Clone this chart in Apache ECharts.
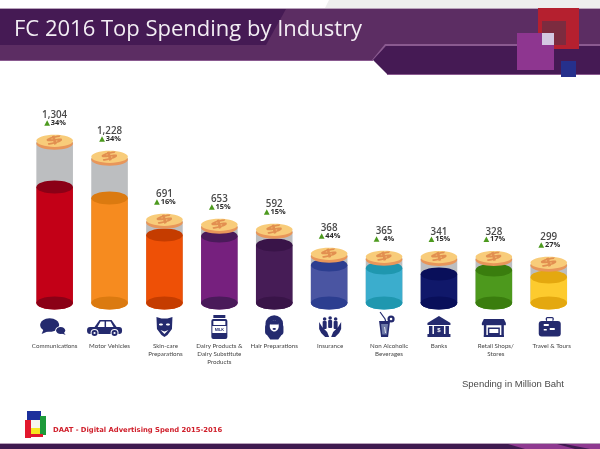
<!DOCTYPE html>
<html><head><meta charset="utf-8">
<style>html,body{margin:0;padding:0;background:#fff}#c{width:600px;height:449px}</style>
<script src="https://cdn.jsdelivr.net/npm/echarts@6/dist/echarts.min.js"></script>
</head><body><div id="c"></div>
<script>
var categories=['Communications','Motor Vehicles','Skin-care\nPreparations','Dairy Products &\nDairy Substitute\nProducts','Hair Preparations','Insurance','Non Alcoholic\nBeverages','Banks','Retail Shops/\nStores','Travel & Tours'];
var spending=['1,304','1,228','691','653','592','368','365','341','328','299'];
var growth=['34%','34%','16%','15%','15%','44%','4%','15%','17%','27%'];
var coinLevel=[1288,1160,656,616,576,384,360,358,358,312];
var fillLevel=[928,840,544,536,464,304,280,232,264,208];
var bodyColors=['#c30017','#f68b1f','#ee5006','#76207e','#461c56','#4a55a2','#3badcd','#10186a','#4d991d','#fdcb2e'];
var capColors=['#8b0016','#db7a10','#c53c00','#4a1a5a','#391448','#2c3e90','#1f97af','#090f5a','#3a7d0e','#e4a80f'];
var labelShift=[0,0,1,0,0,1,5,0,2,3];
var iconShift=[-2,-5,0,0,0,1,1,0,0,1];

var NAVY='#242a6e',W='#fff';
function E(cx,cy,rx,ry,f,r){return {type:'ellipse',shape:{cx:cx,cy:cy,rx:rx,ry:ry},style:{fill:f},rotation:r||0};}
function C(cx,cy,r,f){return {type:'circle',shape:{cx:cx,cy:cy,r:r},style:{fill:f}};}
function R(x,y,w,h,f,r){return {type:'rect',shape:{x:x,y:y,width:w,height:h,r:r||0},style:{fill:f}};}
function P(p,f){return {type:'polygon',shape:{points:p},style:{fill:f}};}
function L(p,s,w){return {type:'polyline',shape:{points:p},style:{fill:'none',stroke:s,lineWidth:w}};}
var icons=[
 [E(-3,-2,9.5,6.8,NAVY),P([[-9,2],[-11,7],[-4,4]],NAVY),E(8,3.5,5.4,4.2,W),E(8,3.5,4.6,3.5,NAVY),P([[8,6],[13,8],[10,4]],NAVY)],
 [R(-17.5,0,35,7,NAVY,3),P([[-10,0],[-5,-7],[7,-7],[12,0]],NAVY),P([[-7,0],[-4,-5.5],[0,-5.5],[0,0]],W),P([[1.5,0],[1.5,-5.5],[6,-5.5],[9,0]],W),C(-10,6,4,W),C(-10,6,3,NAVY),C(-10,6,1.1,W),C(10,6,4,W),C(10,6,3,NAVY),C(10,6,1.1,W)],
 [P([[-8,-10],[-3,-8.5],[3,-8.5],[8,-10],[7.5,2],[3,8],[0,10],[-3,8],[-7.5,2]],NAVY),E(-3.5,-2.5,2,1,W),E(3.5,-2.5,2,1,W),P([[-4,3],[0,4.5],[4,3],[0,7]],W)],
 [R(-6,-12,12,3,NAVY),R(-8,-8,16,20,NAVY,2),R(-6,-6,12,4,W),R(-7,-1,14,7,W),{type:'text',style:{text:'MILK',x:0,y:2.5,fill:NAVY,font:'bold 3.8px "Liberation Sans"',align:'center',verticalAlign:'middle'}}],
 [C(0,-3,8.8,NAVY),R(-9.2,-3,18.4,11,NAVY,3),P([[-8,7],[-4,12.5],[4,12.5],[8,7]],NAVY),E(0,-1,4.5,5.5,W),P([[-5,-5],[0,-7],[5,-5],[4,-2.5],[-4,-2.5]],NAVY),E(0,2,1.7,.9,NAVY)],
 [C(-5.5,-8,1.8,NAVY),C(0,-9,1.8,NAVY),C(5.5,-8,1.8,NAVY),R(-7.5,-6,4,8,NAVY,1),R(-2,-7,4,8,NAVY,1),R(3.5,-6,4,8,NAVY,1),P([[-11,-5],[-8,0],[-3,5],[-1,10],[-5,10],[-9,6],[-11,2]],NAVY),P([[11,-5],[8,0],[3,5],[1,10],[5,10],[9,6],[11,2]],NAVY)],
 [L([[-5,-15],[0,-8],[1,-4]],NAVY,1.2),P([[-6,-6],[5,-6],[3,10],[-4,10]],NAVY),P([[-4,-3],[3,-3],[1.8,7.5],[-2.8,7.5]],'#6f7aa8'),L([[-.5,0],[.5,6]],W,.8),C(6,-8,3.6,NAVY),C(6,-8,1.3,W)],
 [P([[0,-11],[-11.5,-4],[-11.5,-2],[11.5,-2],[11.5,-4]],NAVY),R(-11.5,7,23,3,NAVY),R(-10,-1,3.5,8,NAVY),R(6.5,-1,3.5,8,NAVY),R(-5,-1,10,8,NAVY),{type:'text',style:{text:'$',x:0,y:3,fill:W,font:'bold 6px "Liberation Sans"',align:'center',verticalAlign:'middle'}}],
 [P([[-10,-8],[10,-8],[12,-4],[-12,-4]],NAVY),R(-12,-4,24,2.2,NAVY),R(-10,-2,2.5,12,NAVY),R(7.5,-2,2.5,12,NAVY),R(-10,8,20,2,NAVY),R(-6,.5,12,7.5,NAVY),R(-4.5,2,9,4,W)],
 [R(-4,-10,8,4,NAVY,1.5),R(-2.7,-8.8,5.4,3,W),R(-11,-6,22,15.5,NAVY,3),R(-6,-3,5,2,W),R(0,1,5,2,W),R(-6,2,3,1.5,W)]
];

var chart=echarts.init(document.getElementById('c'),null,{renderer:'canvas'});
var xW=549;
function renderColumn(params,api){
  var i=api.value(0);
  var base=api.coord([i,0]),coin=api.coord([i,coinLevel[i]]),fill=api.coord([i,fillLevel[i]]);
  var x=base[0],rx=18.3,ry=6.5;
  var kids=[
    R(x-rx,coin[1],2*rx,base[1]-coin[1],'#bcbec0'),
    E(x,base[1],rx,ry,bodyColors[i]),
    R(x-rx,fill[1],2*rx,base[1]-fill[1],bodyColors[i]),
    E(x,fill[1],rx,ry,capColors[i]),
    E(x,base[1],rx,ry,capColors[i]),
    E(x,coin[1]+1.6,rx,6.2,'#e8965a'),
    E(x,coin[1]-1.2,rx,6.1,'#f8cc7a'),
    {type:'text',x:x,y:coin[1]-1.2,rotation:.25,scaleX:1.6,scaleY:.6,style:{text:'$',fill:'#e28f50',font:'800 18px "Open Sans"',align:'center',verticalAlign:'middle'}},
    {type:'text',style:{text:spending[i],x:x,y:coin[1]-26.5,fill:'#4a4a4a',font:'600 9.8px "Open Sans"',align:'center',verticalAlign:'middle'}},
    P([[x-10.4,coin[1]-16.3],[x-4.6,coin[1]-16.3],[x-7.5,coin[1]-21.8]],'#4c9a1e'),
    {type:'text',style:{text:growth[i],x:x-3.8+(growth[i].length<3?3:0),y:coin[1]-19,fill:'#2b2b2b',font:'bold 7.4px "Open Sans"',align:'left',verticalAlign:'middle'}}
  ];
  return {type:'group',children:kids.concat([{type:'group',x:x+iconShift[i],y:327,children:icons[i]}])};
}
var rich={};
labelShift.forEach(function(s,i){rich['r'+i]={padding:[0,0,0,s*2],lineHeight:8,fontFamily:'Lato',fontSize:6.2,color:'#444'};});
chart.setOption({
  animation:false,
  grid:{left:27.2,width:xW,top:103,height:200},
  xAxis:{type:'category',data:categories,axisLine:{show:false},axisTick:{show:false},
    axisLabel:{interval:0,margin:39.5,verticalAlign:'top',formatter:function(v,i){return v.split('\n').map(function(t){return '{r'+i+'|'+t+'}';}).join('\n');},rich:rich}},
  yAxis:{type:'value',min:0,max:1600,show:false,splitLine:{show:false}},
  graphic:{elements:[
    {type:'polygon',z:-1,shape:{points:[[329,0],[600,0],[600,8],[325,8]]},style:{fill:'#eeeeee'}},
    {type:'rect',shape:{x:0,y:8,width:600,height:52},style:{fill:'#5c2d63'}},
    {type:'rect',shape:{x:0,y:8,width:600,height:1},style:{fill:'#b9a3bc'}},
    {type:'rect',shape:{x:0,y:60,width:373,height:1},style:{fill:'#8a5a90'}},
    {type:'polygon',shape:{points:[[0,9],[286,9],[266,45],[0,45]]},style:{fill:'#451a54'}},
    {type:'polygon',shape:{points:[[385,44],[600,44],[600,46],[386,46],[374,60],[372,60]]},style:{fill:'#8a5a90'}},
    {type:'polygon',shape:{points:[[386,46],[600,46],[600,74],[387,74],[373,60]]},style:{fill:'#451a54'}},
    {type:'rect',shape:{x:387,y:74,width:213,height:1},style:{fill:'#8a5a90'}},
    {type:'text',style:{text:'FC 2016 Top Spending by Industry',x:14,y:30,fill:'#f3eef4',font:'400 22px "Open Sans"',verticalAlign:'middle'}},
    {type:'rect',shape:{x:538,y:8,width:41,height:41},style:{fill:'#b5202f'}},
    {type:'rect',shape:{x:542,y:21,width:24,height:24},style:{fill:'#7c2b3f'}},
    {type:'rect',shape:{x:517,y:33,width:37,height:37},style:{fill:'#8e3690'}},
    {type:'rect',shape:{x:542,y:33,width:12,height:12},style:{fill:'#d4c8e2'}},
    {type:'rect',shape:{x:561,y:61,width:15,height:16},style:{fill:'#26308c'}},
    {type:'text',style:{text:'Spending in Million Baht',x:462,y:384,fill:'#4a4a4a',font:'9.5px "Liberation Sans"',verticalAlign:'middle'}},
    {type:'rect',shape:{x:27,y:411,width:14,height:12},style:{fill:'#1c2f9c'}},
    {type:'rect',shape:{x:40,y:416,width:6,height:19},style:{fill:'#1d9a3a'}},
    {type:'rect',shape:{x:25,y:420,width:6,height:18},style:{fill:'#e2182d'}},
    {type:'rect',shape:{x:25,y:434,width:18,height:3},style:{fill:'#e2182d'}},
    {type:'rect',shape:{x:31,y:428,width:9,height:6},style:{fill:'#f6e820'}},
    {type:'rect',shape:{x:31,y:420,width:9,height:8},style:{fill:'#f7f6ee'}},
    {type:'text',style:{text:'DAAT - Digital Advertising Spend 2015-2016',x:53,y:430,fill:'#d0202c',font:'bold 6.8px "DejaVu Sans"',verticalAlign:'middle'}},
    {type:'rect',shape:{x:0,y:443,width:600,height:1},style:{fill:'#b9a3bc'}},
    {type:'rect',shape:{x:0,y:444,width:600,height:5},style:{fill:'#3f1a50'}},
    {type:'polygon',shape:{points:[[508,444],[600,444],[600,449],[525,449]]},style:{fill:'#8e3a90'}},
    {type:'polygon',shape:{points:[[557,444],[565,444],[590,449],[575,449]]},style:{fill:'#3f1a50'}}
  ]},
  series:[{type:'custom',coordinateSystem:'cartesian2d',clip:false,encode:{x:0,y:1},
    data:categories.map(function(c,i){return [i,coinLevel[i]];}),renderItem:renderColumn}]
});
</script></body></html>
